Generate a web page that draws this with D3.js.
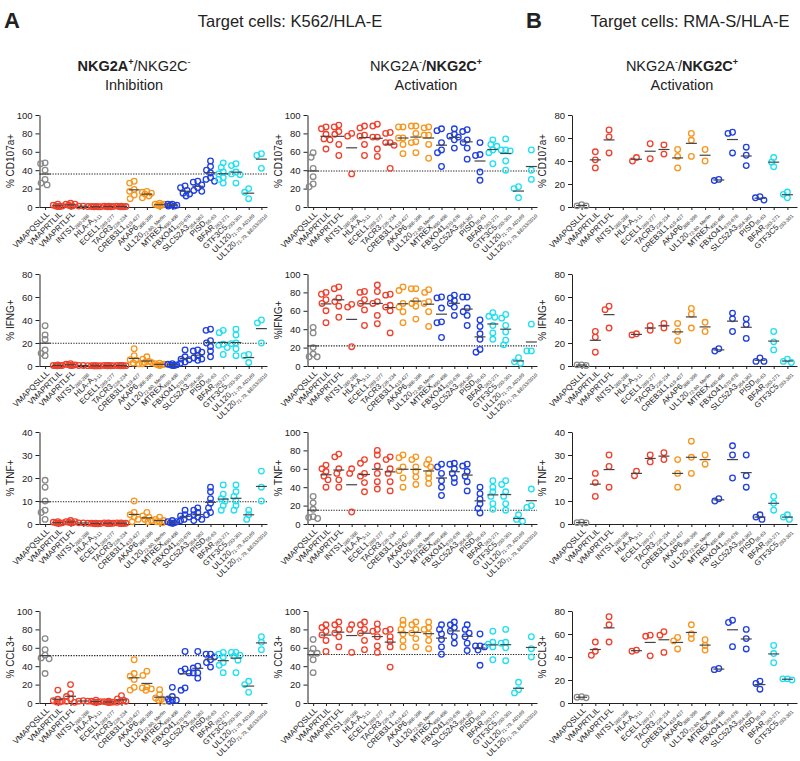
<!DOCTYPE html>
<html><head><meta charset="utf-8">
<script src="https://cdn.jsdelivr.net/npm/d3@7"></script>
<style>body{margin:0;background:#fff} text{font-family:"Liberation Sans",Arial,sans-serif;fill:#222}</style>
</head><body><svg id="c" width="800" height="761"></svg>
<script>
// ---------- categories ----------
const catNames = ["VMAPQSLLL","VMAPRTLIL","VMAPRTLFL","INTS1","HLA-A","ECEL1","TACR3","CREB3L1","AKAP6","UL120","MTREX","FBXO41","SLC52A3","PISD","BFAR","GTF3C5","UL120","UL120"];
const catSubs = ["","","","280-288","3-11","269-277","226-234","419-427","388-396","72-80, Merlin","490-498","670-678","354-362","55-63","263-271","293-301","71-79, AD169","71-79, BE/33/2010"];
const nCatsA = 18, nCatsB = 16;

// ---------- tick labels ----------
const ticks100 = [0,20,40,60,80,100];
const ticks80 = [0,20,40,60,80];
const ticks40 = [0,10,20,30,40];

// ---------- data (% positive cells per donor) ----------
const cd107a_A1 = [[48,47,40,30,26,24],[3,2,1,1,0.5,0.5],[4,3,3,2,1,1],[1,1,0.5],[0.5,0.5,0.3,0.3,0.2],[1,0.8,0.5,0.5,0.3,0.3],[1,1,0.5,0.5,0.3,0.3],[28,26,19,17,13,9],[17,16,15,14,12,10],[4,3,3,2,2,1],[3,3,2,2,1,1],[23,21,18,15,14,12],[28,27,24,21,18,17],[50,44,40,37,32,30,28],[48,43,38,36,32,30,26],[47,45,38,36,35,26],[20,16,9],[58,56,42]];
const cd107a_A2 = [[59,54,42,33,25,22],[87,85,79,74,73,63],[89,87,82,79,68,56],[80,77,36],[88,86,78,77,68,56],[90,88,76,76,63,55],[81,80,70,70,67,42],[87,87,75,75,68,58],[88,88,80,71,70,59],[87,86,78,78,68,53],[85,83,70,62,59,44],[85,79,77,76,73,64],[84,82,73,70,64,52],[70,57,56,38,29],[73,68,66,62,59,47],[74,62,62,61,50,40],[22,20,10],[62,40,30]];
const cd107a_B = [[1,2,1],[48,41,34],[67,61,47],[],[40,43],[55,42],[54,46],[50,44,34],[64,58,44],[50,40],[23,24],[65,64,47],[52,45,36],[9,6,8],[43,39,35],[13,8,11]];

const ifng_A1 = [[35,27,23,14,9,11],[1,0.5,0.5,0.3,0.3,0.2],[2,1.5,1,1,0.5,0.5],[0.5,0.5,0.3],[0.3,0.3,0.2,0.2,0.1,0.1],[0.5,0.5,0.3,0.3,0.2,0.2],[0.5,0.5,0.3,0.3,0.2,0.2],[15,9,5.5,5,2,2.6],[8,6,4,3,2,3],[2.5,2,1.5,1,1,0.5],[2,1.5,1,1,0.5,0.5],[14,8,6,5.5,3.5,2.6],[14,13,12,9,7,6,5],[31,32,22,20,17,13,8],[29,31,18,19,16,10],[32,27,20,19.5,15,9],[10,9,3],[40,37.5,20]];
const ifng_A2 = [[42,36,20,10,10,13],[78,80,72,68,60,47],[84,86,74,70,65,53],[67,64,21],[80,81,72,68,61,44],[88,81,68,70,55,46],[78,77,64,66,60,36],[82,86,68,64,59,47],[84,84,71,68,65,51],[83,80,70,68,59,43],[74,75,63,48,47,31],[74,77,71,68,64,55],[75,75,63,59,55,44],[50,43,35,29,15,18],[54,58,53,44,36,29],[56,52,44,37,28,23],[9,3,4.5],[45.5,16.4,16.4]];
const ifng_B = [[1,1,0.5],[30,25,12],[52,49,33],[],[28,27],[35,31],[37,33],[37,30,22],[50,45,33],[38,30],[15,13],[46,41,30],[41,36,24],[7,4,4],[30,21,14],[6,3,4]];

const tnf_A1 = [[19,16,10,6,5,2],[1,0.8,0.5,0.5,0.3,0.3],[1.5,1,1,0.8,0.5,0.5],[0.5,0.5,0.3],[0.3,0.3,0.2,0.2,0.1,0.1],[0.5,0.5,0.3,0.3,0.2,0.2],[0.5,0.5,0.3,0.3,0.2,0.2],[10,5,4,3,2,1],[5,3.5,3,2,1.5,1],[3,2,1.5,1,1,0.5],[1.5,1,1,0.5,0.5,0.3],[6,4,3.5,3,2,1.5],[7,6,5,4,3,2,1.5],[16,14,11,9,7,5,4],[17,13,11,10,8,6],[17,14,12,10,8,6],[6,4,2],[23,16,10]];
const tnf_A2 = [[30,23,16,8,7,6],[64,60,57,52,48,40],[76,73,60,55,48,40],[60,55,13],[70,66,55,52,45,35],[80,75,63,55,46,38],[73,70,60,55,46,36],[75,72,62,58,50,40],[73,70,62,57,51,43],[70,65,62,55,50,44],[65,62,55,47,40,31],[66,65,60,55,50,45],[65,63,57,52,46,36],[40,33,27,22,17,12],[47,40,35,30,22,16],[47,43,35,30,22,15],[10,5,3],[38,20,18]];
const tnf_B = [[0.8,0.5,0.6],[22,18,12],[30,25,16],[],[23,21],[30,27],[31,28],[28,22,16],[36,29,22],[30,26],[11,10],[34,30,20],[30,21,16],[4,2,3],[12,9,6],[4,2,3]];

const ccl3_A1 = [[70,58,52,49,48,32],[14,4,2,1,1,2.5],[20,10,7,4.4,1.8,0.7],[2,2,2.5],[3,2,1,1,0.7,1.5],[2,1.5,1,1,0.5,0.7],[8,4.4,3,1.8,1.8,0.7],[47,32,29,25.5,17,14],[34.5,30,17.5,16.4,13.8,15.3],[14.5,9,4.4,5.5,3,1.8],[17,7,4.4,3,3,1.8],[56,37,34.5,32.7,16.4,13.8],[56,40,38,32.7,32.7,27],[53,53,50,47,44,39],[55,53,50,44,41,33],[55,55,52,51,46.5,33],[23.6,20,11.6],[72,66,58]];
const ccl3_A2 = [[69,59,54,54,47,33],[85,82,78,74,68,56],[88,85,80,76,72,61],[85,80,55],[88,85,80,76,68,58],[86,80,78,72,62,55],[80,78,72,67,61,39],[90,85,80,75,68,61],[88,85,80,76,70,61],[88,82,80,75,68,59],[85,80,75,69,61,53],[88,85,82,78,72,65],[85,80,76,72,65,57],[75,62,62,61,57.5,41],[78,66,64,61,47],[80,66,65,60,46],[22.5,14.5,11],[72,59,50]];
const ccl3_B = [[5,5.5,4.5],[53,45,41.5],[75,68,53],[],[45,46],[59,58,41],[62,59,44],[57,54,47],[68,60,56],[55,50,46],[29,30],[72,70,49],[64,56,47],[19,17,12],[50,43,35],[20,21,21]];

// ---------- layout ----------
const cols = [
  {x0:39.5, x1:267, n:nCatsA, pad:0.44, ref:true},
  {x0:307.5, x1:537, n:nCatsA, pad:0.44, ref:true},
  {x0:572, x1:797, n:nCatsB, pad:0.7, ref:false}
];
const rows = [
  {top:115, bot:207, labels:["% CD107a+","% CD107a+","% CD107a+"], data:[cd107a_A1,cd107a_A2,cd107a_B], ticks:[ticks100,ticks100,ticks80]},
  {top:274, bot:366, labels:["% IFNG+","%IFNG+","% IFNG+"], data:[ifng_A1,ifng_A2,ifng_B], ticks:[ticks80,ticks100,ticks80]},
  {top:432, bot:524, labels:["% TNF+","% TNF+","% TNF+"], data:[tnf_A1,tnf_A2,tnf_B], ticks:[ticks40,ticks100,ticks40]},
  {top:611, bot:703, labels:["% CCL3+","% CCL3+","% CCL3+"], data:[ccl3_A1,ccl3_A2,ccl3_B], ticks:[ticks100,ticks100,ticks80]}
];
const palette = {grey:"#8a8a8a", red:"#f0402c", orange:"#f7961e", blue:"#1f3fe0", cyan:"#1fe0f0"};
function colorFor(i){ return i===0?palette.grey : i<=6?palette.red : i<=9?palette.orange : i<=13?palette.blue : palette.cyan; }

const svg = d3.select("#c");
const R = 2.8;

// compact deterministic swarm: keep points within +-4.5 px of the category centre
function swarm(vals, y, cx){
  const sorted = vals.slice().sort((a,b)=>b-a);
  const placed = [];
  const cands = [0,-2,2,-4,4,-1,1,-3,3,-4.5,4.5];
  sorted.forEach(v=>{
    const py = y(v);
    let best = null, bestD = -1;
    for(const off of cands){
      const px = cx+off;
      const d = placed.length ? d3.min(placed,p=>Math.hypot(p[0]-px,p[1]-py)) : 99;
      if(d>=4.6){ best=px; bestD=d; break; }
      if(d>bestD){ bestD=d; best=px; }
    }
    placed.push([best,py]);
  });
  return placed;
}

rows.forEach(row=>{
  cols.forEach((col,ci)=>{
    const data = row.data[ci];
    const tks = row.ticks[ci];
    const ymax = tks[tks.length-1];
    const y = d3.scaleLinear().domain([0,ymax]).range([row.bot,row.top]);
    const x = d3.scalePoint().domain(d3.range(col.n)).range([col.x0,col.x1]).padding(col.pad);
    const g = svg.append("g");

    // axes
    const ya = g.append("g").attr("transform",`translate(${col.x0},0)`)
      .call(d3.axisLeft(y).tickValues(tks).tickSize(4).tickSizeOuter(0));
    ya.selectAll("text").attr("font-size",9.5).style("font-family","Liberation Sans, Arial, sans-serif").attr("fill","#222");
    ya.selectAll("path,line").attr("stroke","#222").attr("stroke-width",1);
    const xa = g.append("g").attr("transform",`translate(0,${row.bot})`)
      .call(d3.axisBottom(x).tickSize(3).tickSizeOuter(0).tickFormat(""));
    xa.selectAll("path,line").attr("stroke","#222").attr("stroke-width",1);

    // x labels
    d3.range(col.n).forEach(i=>{
      const t = g.append("text")
        .attr("transform",`translate(${x(i)+2},${row.bot+5}) rotate(-45)`)
        .attr("text-anchor","end").attr("font-size",8).attr("dy","0.5em");
      t.append("tspan").text(catNames[i]);
      if(catSubs[i]) t.append("tspan").attr("font-size",5).attr("dy",2).text(catSubs[i]);
    });

    // y label
    g.append("text").attr("transform",`translate(${col.x0-26},${(row.top+row.bot)/2}) rotate(-90)`)
      .attr("text-anchor","middle").attr("font-size",10).text(row.labels[ci]);

    // reference dotted line (mean of VMAPQSLLL) – only in panel A
    if(col.ref){
      const ref = d3.mean(data[0]);
      g.append("line").attr("x1",col.x0).attr("x2",col.x1).attr("y1",y(ref)).attr("y2",y(ref))
        .attr("stroke","#222").attr("stroke-width",1.1).attr("stroke-dasharray","1.3,1.3");
    }

    // points + mean bars
    data.forEach((vals,i)=>{
      if(!vals.length) return;
      const pts = swarm(vals,y,x(i));
      g.selectAll(null).data(pts).enter().append("circle")
        .attr("cx",d=>d[0]).attr("cy",d=>d[1]).attr("r",R)
        .attr("fill","none").attr("stroke",colorFor(i)).attr("stroke-width",1.3);
      const m = d3.mean(vals);
      g.append("line").attr("x1",x(i)-5.5).attr("x2",x(i)+5.5).attr("y1",y(m)).attr("y2",y(m))
        .attr("stroke","#444").attr("stroke-width",1.2);
    });
  });
});

// ---------- headers ----------
svg.append("text").attr("x",4).attr("y",28).attr("font-size",22).attr("font-weight","bold").text("A");
svg.append("text").attr("x",290).attr("y",27).attr("font-size",16.5).attr("text-anchor","middle").text("Target cells: K562/HLA-E");
svg.append("text").attr("x",526).attr("y",28).attr("font-size",22).attr("font-weight","bold").text("B");
svg.append("text").attr("x",690).attr("y",27).attr("font-size",16.5).attr("text-anchor","middle").text("Target cells: RMA-S/HLA-E");

function subtitle(cx, boldFirst){
  const t = svg.append("text").attr("x",cx).attr("y",71).attr("font-size",14.5).attr("text-anchor","middle");
  t.append("tspan").attr("font-weight",boldFirst?"bold":null).text("NKG2A");
  t.append("tspan").attr("font-weight",boldFirst?"bold":null).attr("font-size",9).attr("dy",-6).text(boldFirst?"+":"-");
  t.append("tspan").attr("dy",6).text("/");
  t.append("tspan").attr("font-weight",boldFirst?null:"bold").text("NKG2C");
  t.append("tspan").attr("font-weight",boldFirst?null:"bold").attr("font-size",9).attr("dy",-6).text(boldFirst?"-":"+");
}
subtitle(134,true);
subtitle(426,false);
subtitle(682,false);
svg.append("text").attr("x",134).attr("y",90).attr("font-size",14.5).attr("text-anchor","middle").text("Inhibition");
svg.append("text").attr("x",426).attr("y",90).attr("font-size",14.5).attr("text-anchor","middle").text("Activation");
svg.append("text").attr("x",682).attr("y",90).attr("font-size",14.5).attr("text-anchor","middle").text("Activation");
</script></body></html>
